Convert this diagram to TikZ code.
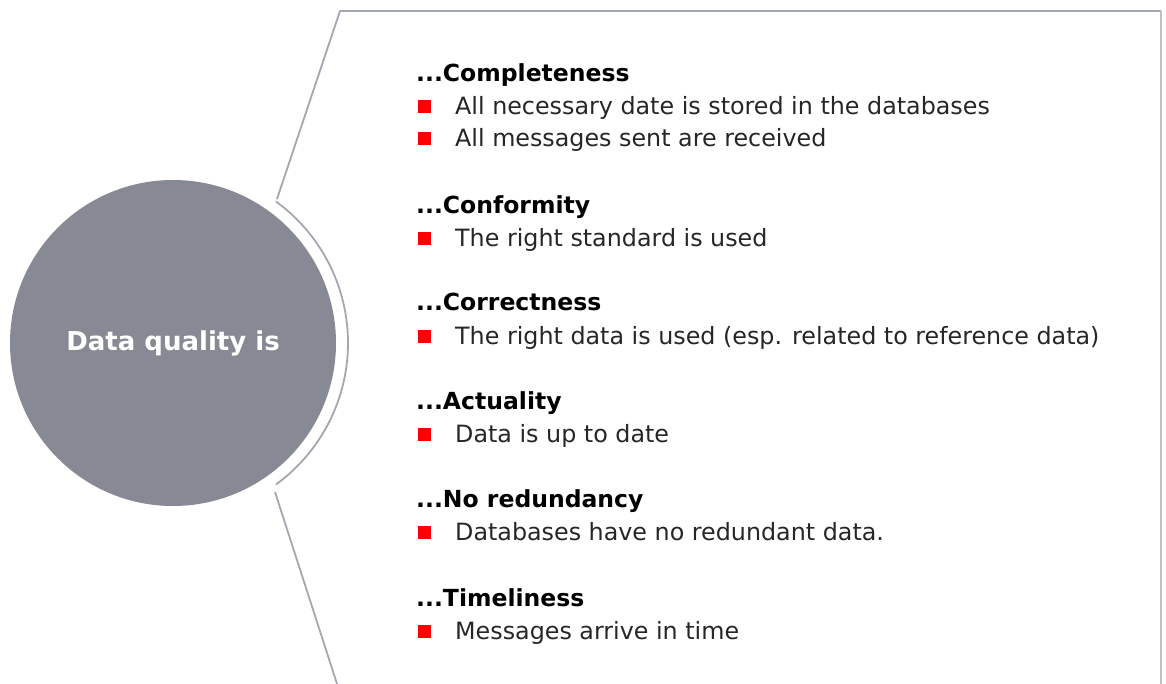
\documentclass[tikz,border=0pt]{standalone}
\usepackage{fontspec}
\setmainfont{DejaVu Sans}
\usetikzlibrary{positioning}
\definecolor{hubgray}{HTML}{878A94}
\definecolor{framegray}{HTML}{A3A7AF}
\definecolor{bulletred}{HTML}{FF0000}
\newcommand{\redsq}{\textcolor{bulletred}{\rule[1.5pt]{13pt}{13pt}}\hspace{24pt}}

\begin{document}
\begin{tikzpicture} [x=1pt, y=-1pt, hub/.style={circle, fill=hubgray, minimum size=326pt, inner sep=0pt, text=white, font=\fontsize{26}{30}\selectfont\bfseries}, head/.style={anchor=base west, inner sep=0pt, font=\fontsize{23.5}{28}\selectfont\bfseries}, item/.style={anchor=base west, inner sep=0pt, font=\fontsize{23.8}{28}\selectfont, text=black!85}, frame/.style={draw=framegray, line width=1.8pt, line join=round}]
  \useasboundingbox (0,0) rectangle (1166,684);
  %% Left circle and its frame
  \node [hub] (hub) at (173,343) {Data quality is};
  \coordinate (ftop) at (277,199);
  \coordinate (fbot) at (275,492);
  \draw [frame] (ftop) -- (340,11) -- (1161,11);
  \draw [frame, draw=framegray!70, line width=2.8pt] (1161,11) -- (1161,690);
  \draw [frame] (fbot) -- (339,690);
  \draw [frame] (hub.center) ++(-54:175pt) arc[start angle=-54, end angle=54, radius=175pt];
  % Headings
  \node [head] (complete) at (416,82) {...Completeness};
  \node [head] (conform) at (416,214) {...Conformity};
  \node [head] (correct) at (416,311) {...Correctness};
  \node [head] (actual) at (416,409) {...Actuality};
  \node [head] (redund) at (416,507) {...No redundancy};
  \node [head] (timely) at (416,606) {...Timeliness};
  % Bullet lines
  \node [item, below right=33pt and 2pt of complete.base west, anchor=base west] (complete1) {\redsq All necessary date is stored in the databases};
  \node [item, below=32pt of complete1.base west, anchor=base west] (complete2) {\redsq All messages sent are received};
  \node [item, below right=33pt and 2pt of conform.base west, anchor=base west] (conform1) {\redsq The right standard is used};
  \node [item, below right=33pt and 2pt of correct.base west, anchor=base west] (correct1) {\redsq The right data is used (esp. related to reference data)};
  \node [item, below right=33pt and 2pt of actual.base west, anchor=base west] (actual1) {\redsq Data is up to date};
  \node [item, below right=33pt and 2pt of redund.base west, anchor=base west] (redund1) {\redsq Databases have no redundant data.};
  \node [item, below right=33pt and 2pt of timely.base west, anchor=base west] (timely1) {\redsq Messages arrive in time};
\end{tikzpicture}
\end{document}
